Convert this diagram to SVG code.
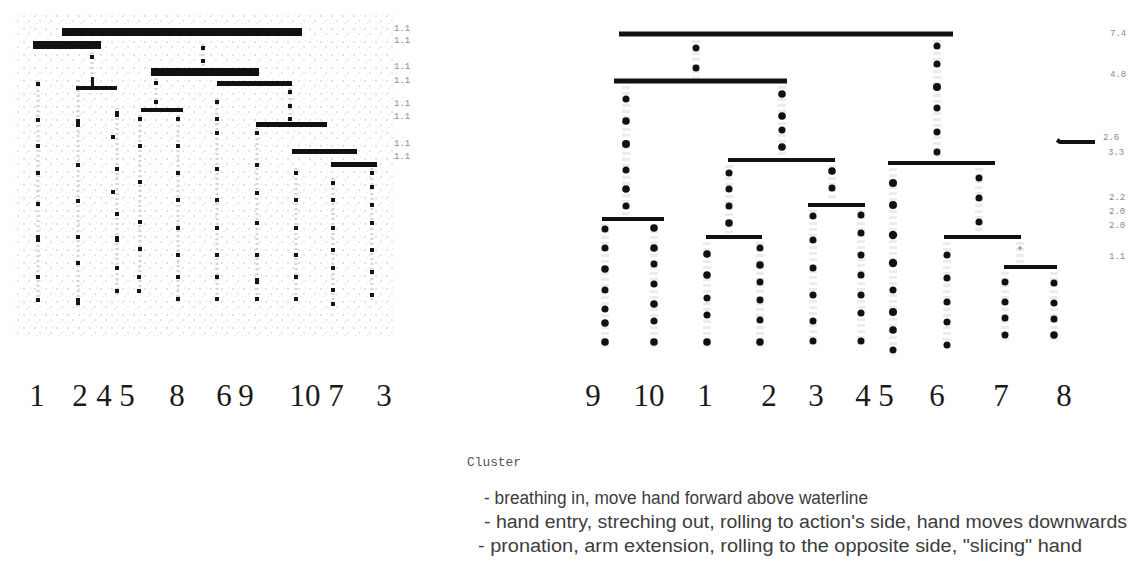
<svg xmlns="http://www.w3.org/2000/svg" width="1136" height="565" viewBox="0 0 1136 565">
<style>
.bar{fill:#111}
.rb{stroke:#111;stroke-width:5;stroke-linecap:butt;fill:none}
.rb4{stroke:#111;stroke-width:4;fill:none}
.sq{fill:#151515}
.dt{fill:#111}
.gl{stroke:#d4d4d4;stroke-width:3;stroke-dasharray:2 3;fill:none}
.gr{stroke:#e0e0e0;stroke-width:8;stroke-dasharray:3 3;fill:none;opacity:.6}
.num{font-family:"Liberation Serif",serif;font-size:31px;fill:#1a1a1a;text-anchor:middle}
.sc{font-family:"Liberation Mono",monospace;font-size:9px;fill:#8a8a8a}
.lg{font-family:"Liberation Sans",Arial,sans-serif;font-size:18px;fill:#3c3c3c}
.cl{font-family:"Liberation Mono",monospace;font-size:12px;fill:#555}
</style>
<defs>
<pattern id="noise" width="11" height="13" patternUnits="userSpaceOnUse">
<rect x="1" y="2" width="2" height="2" fill="#e2e2e2"/>
<rect x="6" y="7" width="2" height="2" fill="#e8e8e8"/>
<rect x="8" y="1" width="1" height="2" fill="#ececec"/>
<rect x="3" y="10" width="2" height="1" fill="#ebebeb"/>
</pattern>
</defs>
<rect width="1136" height="565" fill="#fff"/>
<rect x="15" y="15" width="380" height="322" fill="url(#noise)"/>

<!-- left dendrogram -->
<g id="left-connectors">
<path class="gl" d="M38 80V305M78 80V308M92 52V90M117 108V295M140 115V295M156 78V106M178 115V303M203 44V66M217 98V303M257 128V303M290 88V122M296 168V303M333 178V308M372 168V300"/>
<g>
<rect class="sq" x="36" y="82" width="4" height="4"/><rect class="sq" x="36" y="118" width="4" height="4"/><rect class="sq" x="36" y="144" width="4" height="4"/><rect class="sq" x="36" y="171" width="4" height="4"/><rect class="sq" x="36" y="202" width="4" height="4"/><rect class="sq" x="36" y="235" width="4" height="7"/><rect class="sq" x="36" y="275" width="4" height="4"/><rect class="sq" x="36" y="298" width="4" height="4"/>
<rect class="sq" x="76" y="119" width="4" height="8"/><rect class="sq" x="76" y="163" width="4" height="4"/><rect class="sq" x="76" y="199" width="4" height="4"/><rect class="sq" x="76" y="235" width="4" height="4"/><rect class="sq" x="76" y="261" width="4" height="4"/><rect class="sq" x="76" y="298" width="4" height="7"/>
<rect class="sq" x="90" y="55" width="4" height="4"/><rect class="sq" x="91" y="77" width="3" height="11"/>
<rect class="sq" x="115" y="111" width="4" height="6"/><rect class="sq" x="111" y="135" width="4" height="4"/><rect class="sq" x="115" y="167" width="4" height="4"/><rect class="sq" x="111" y="190" width="4" height="4"/><rect class="sq" x="115" y="212" width="4" height="4"/><rect class="sq" x="115" y="236" width="4" height="6"/><rect class="sq" x="115" y="266" width="4" height="4"/><rect class="sq" x="115" y="289" width="4" height="4"/>
<rect class="sq" x="138" y="117" width="4" height="4"/><rect class="sq" x="138" y="144" width="4" height="4"/><rect class="sq" x="138" y="180" width="4" height="4"/><rect class="sq" x="138" y="220" width="4" height="4"/><rect class="sq" x="138" y="247" width="4" height="4"/><rect class="sq" x="137" y="275" width="4" height="4"/><rect class="sq" x="137" y="289" width="4" height="4"/>
<rect class="sq" x="154" y="81" width="4" height="4"/><rect class="sq" x="154" y="100" width="4" height="4"/>
<rect class="sq" x="176" y="117" width="4" height="4"/><rect class="sq" x="176" y="144" width="4" height="4"/><rect class="sq" x="176" y="171" width="4" height="4"/><rect class="sq" x="176" y="198" width="4" height="4"/><rect class="sq" x="176" y="226" width="4" height="4"/><rect class="sq" x="176" y="253" width="4" height="4"/><rect class="sq" x="176" y="275" width="4" height="4"/><rect class="sq" x="176" y="297" width="4" height="4"/>
<rect class="sq" x="201" y="46" width="4" height="4"/><rect class="sq" x="201" y="59" width="4" height="4"/>
<rect class="sq" x="215" y="100" width="4" height="4"/><rect class="sq" x="215" y="117" width="4" height="4"/><rect class="sq" x="215" y="131" width="4" height="4"/><rect class="sq" x="215" y="167" width="4" height="4"/><rect class="sq" x="215" y="198" width="4" height="4"/><rect class="sq" x="215" y="226" width="4" height="4"/><rect class="sq" x="215" y="253" width="4" height="4"/><rect class="sq" x="215" y="275" width="4" height="4"/><rect class="sq" x="215" y="297" width="4" height="4"/>
<rect class="sq" x="255" y="131" width="4" height="4"/><rect class="sq" x="255" y="163" width="4" height="4"/><rect class="sq" x="255" y="191" width="4" height="4"/><rect class="sq" x="255" y="221" width="4" height="4"/><rect class="sq" x="255" y="253" width="4" height="4"/><rect class="sq" x="255" y="278" width="4" height="6"/><rect class="sq" x="255" y="297" width="4" height="4"/>
<rect class="sq" x="288" y="90" width="4" height="4"/><rect class="sq" x="288" y="104" width="4" height="4"/><rect class="sq" x="288" y="117" width="4" height="4"/>
<rect class="sq" x="294" y="171" width="4" height="4"/><rect class="sq" x="294" y="198" width="4" height="4"/><rect class="sq" x="294" y="226" width="4" height="4"/><rect class="sq" x="294" y="253" width="4" height="4"/><rect class="sq" x="294" y="275" width="4" height="4"/><rect class="sq" x="294" y="297" width="4" height="4"/>
<rect class="sq" x="331" y="181" width="4" height="4"/><rect class="sq" x="331" y="198" width="4" height="4"/><rect class="sq" x="331" y="226" width="4" height="4"/><rect class="sq" x="331" y="248" width="4" height="4"/><rect class="sq" x="331" y="266" width="4" height="4"/><rect class="sq" x="331" y="288" width="4" height="4"/><rect class="sq" x="331" y="302" width="4" height="4"/>
<rect class="sq" x="370" y="171" width="4" height="4"/><rect class="sq" x="370" y="185" width="4" height="4"/><rect class="sq" x="370" y="203" width="4" height="4"/><rect class="sq" x="370" y="221" width="4" height="4"/><rect class="sq" x="370" y="248" width="4" height="4"/><rect class="sq" x="370" y="270" width="4" height="4"/><rect class="sq" x="370" y="293" width="4" height="4"/>
</g>
</g>
<g id="left-node-root"><rect class="bar" x="62" y="28" width="240" height="8"/></g>
<g id="left-node-a"><rect class="bar" x="33" y="41" width="68" height="8"/></g>
<g id="left-node-b"><rect class="bar" x="151" y="68" width="108" height="8"/></g>
<g id="left-node-c"><rect class="bar" x="217" y="81" width="75" height="5"/></g>
<g id="left-node-d"><rect class="bar" x="76" y="86" width="41" height="4"/></g>
<g id="left-node-e"><rect class="bar" x="141" y="108" width="42" height="4"/></g>
<g id="left-node-f"><rect class="bar" x="256" y="122" width="71" height="5"/></g>
<g id="left-node-g"><rect class="bar" x="292" y="149" width="65" height="5"/></g>
<g id="left-node-h"><rect class="bar" x="331" y="162" width="46" height="5"/></g>
<g id="left-scale">
<text class="sc" x="394" y="31">1.1</text><text class="sc" x="394" y="43">1.1</text>
<text class="sc" x="394" y="69">1.1</text><text class="sc" x="394" y="83">1.1</text>
<text class="sc" x="394" y="106">1.1</text><text class="sc" x="394" y="119">1.1</text>
<text class="sc" x="394" y="146">1.1</text><text class="sc" x="394" y="159">1.1</text>
</g>
<g id="left-labels">
<text class="num" x="37" y="406">1</text><text class="num" x="80" y="406">2</text><text class="num" x="104" y="406">4</text><text class="num" x="127" y="406">5</text><text class="num" x="177" y="406">8</text><text class="num" x="224" y="406">6</text><text class="num" x="246" y="406">9</text><text class="num" x="305" y="406">10</text><text class="num" x="336" y="406">7</text><text class="num" x="384" y="406">3</text>
</g>

<!-- right dendrogram -->
<g id="right-connectors">
<path class="gr" d="M696 40V78M937 40V160M626 86V215M782 86V156M729 165V233M832 165V201M605 224V348M654 224V348M707 242V348M760 242V348M813 210V346M861 210V346M893 168V355M979 168V233M947 242V350M1020 242V263M1005 272V340M1054 272V340"/>
<g>
<circle class="dt" cx="696" cy="48" r="3.5"/><circle class="dt" cx="696" cy="68" r="3.5"/>
<circle class="dt" cx="937" cy="46" r="3.5"/><circle class="dt" cx="937" cy="64" r="3.5"/><circle class="dt" cx="937" cy="87" r="4"/><circle class="dt" cx="937" cy="108" r="3.5"/><circle class="dt" cx="937" cy="132" r="3.5"/><circle class="dt" cx="937" cy="152" r="3.5"/>
<circle class="dt" cx="626" cy="99" r="3.5"/><circle class="dt" cx="626" cy="121" r="3.8"/><circle class="dt" cx="626" cy="144" r="4"/><circle class="dt" cx="626" cy="170" r="3.5"/><circle class="dt" cx="626" cy="189" r="3.8"/><circle class="dt" cx="626" cy="206" r="3.5"/>
<circle class="dt" cx="782" cy="94" r="3.8"/><circle class="dt" cx="782" cy="116" r="3.8"/><circle class="dt" cx="782" cy="130" r="3.5"/><circle class="dt" cx="782" cy="147" r="3.8"/>
<circle class="dt" cx="729" cy="173" r="3.5"/><circle class="dt" cx="729" cy="189" r="3.5"/><circle class="dt" cx="729" cy="206" r="3.5"/><circle class="dt" cx="729" cy="223" r="3.8"/>
<circle class="dt" cx="832" cy="171" r="3.8"/><circle class="dt" cx="832" cy="188" r="3.5"/>
<circle class="dt" cx="605" cy="229" r="3.5"/><circle class="dt" cx="605" cy="248" r="3.5"/><circle class="dt" cx="605" cy="269" r="3.8"/><circle class="dt" cx="605" cy="290" r="3.5"/><circle class="dt" cx="605" cy="309" r="3.5"/><circle class="dt" cx="605" cy="323" r="3.8"/><circle class="dt" cx="605" cy="342" r="3.8"/>
<circle class="dt" cx="654" cy="228" r="3.8"/><circle class="dt" cx="654" cy="248" r="3.8"/><circle class="dt" cx="654" cy="264" r="3.5"/><circle class="dt" cx="654" cy="284" r="3.5"/><circle class="dt" cx="654" cy="304" r="3.8"/><circle class="dt" cx="654" cy="321" r="3.5"/><circle class="dt" cx="654" cy="342" r="3.8"/>
<circle class="dt" cx="707" cy="254" r="3.8"/><circle class="dt" cx="707" cy="275" r="3.8"/><circle class="dt" cx="707" cy="298" r="3.5"/><circle class="dt" cx="707" cy="315" r="3.5"/><circle class="dt" cx="707" cy="342" r="3.8"/>
<circle class="dt" cx="760" cy="248" r="3.5"/><circle class="dt" cx="760" cy="265" r="3.8"/><circle class="dt" cx="760" cy="282" r="3.5"/><circle class="dt" cx="760" cy="300" r="3.5"/><circle class="dt" cx="760" cy="320" r="3.5"/><circle class="dt" cx="760" cy="342" r="3.8"/>
<circle class="dt" cx="813" cy="216" r="3.5"/><circle class="dt" cx="813" cy="240" r="3.5"/><circle class="dt" cx="813" cy="268" r="3.5"/><circle class="dt" cx="813" cy="295" r="3.5"/><circle class="dt" cx="813" cy="321" r="3.5"/><circle class="dt" cx="813" cy="341" r="3.5"/>
<circle class="dt" cx="861" cy="215" r="3.5"/><circle class="dt" cx="861" cy="233" r="3.5"/><circle class="dt" cx="861" cy="255" r="3.5"/><circle class="dt" cx="861" cy="275" r="3.5"/><circle class="dt" cx="861" cy="295" r="3.5"/><circle class="dt" cx="861" cy="313" r="3.5"/><circle class="dt" cx="861" cy="341" r="3.5"/>
<circle class="dt" cx="893" cy="183" r="4"/><circle class="dt" cx="893" cy="205" r="4"/><circle class="dt" cx="893" cy="235" r="4.2"/><circle class="dt" cx="893" cy="263" r="4.2"/><circle class="dt" cx="893" cy="290" r="3.5"/><circle class="dt" cx="893" cy="312" r="4"/><circle class="dt" cx="893" cy="330" r="3.8"/><circle class="dt" cx="893" cy="350" r="3.5"/>
<circle class="dt" cx="979" cy="178" r="3.5"/><circle class="dt" cx="979" cy="198" r="3.5"/><circle class="dt" cx="979" cy="222" r="3.5"/>
<circle class="dt" cx="947" cy="255" r="3.5"/><circle class="dt" cx="947" cy="278" r="3.5"/><circle class="dt" cx="947" cy="302" r="3.5"/><circle class="dt" cx="947" cy="322" r="3.5"/><circle class="dt" cx="947" cy="345" r="3.5"/>
<circle cx="1020" cy="248" r="1.8" fill="#999"/>
<circle class="dt" cx="1005" cy="282" r="3.5"/><circle class="dt" cx="1005" cy="302" r="3.5"/><circle class="dt" cx="1005" cy="318" r="3.5"/><circle class="dt" cx="1005" cy="335" r="3.5"/>
<circle class="dt" cx="1054" cy="283" r="3.5"/><circle class="dt" cx="1054" cy="303" r="3.5"/><circle class="dt" cx="1054" cy="319" r="3.5"/><circle class="dt" cx="1054" cy="335" r="3.8"/>
</g>
</g>
<g id="right-node-root"><path class="rb" d="M619 34H953"/></g>
<g id="right-node-9-10-1-2-3-4"><path class="rb" d="M614 81H787"/></g>
<g id="right-node-1-2-3-4"><path class="rb4" d="M728 160H835"/></g>
<g id="right-node-5-6-7-8"><path class="rb4" d="M888 163H995"/></g>
<g id="right-node-9-10"><path class="rb4" d="M602 219H664"/></g>
<g id="right-node-3-4"><path class="rb4" d="M808 205H865"/></g>
<g id="right-node-1-2"><path class="rb4" d="M706 237H762"/></g>
<g id="right-node-6-7-8"><path class="rb4" d="M944 237H1021"/></g>
<g id="right-node-7-8"><path class="rb4" d="M1004 267H1057"/></g>
<g id="right-scale">
<path class="rb4" d="M1057 140L1060 142H1095"/>
<text class="sc" x="1110" y="36">7.4</text>
<text class="sc" x="1110" y="77">4.8</text>
<text class="sc" x="1103" y="140">2.6</text>
<text class="sc" x="1108" y="155">3.3</text>
<text class="sc" x="1109" y="200">2.2</text>
<text class="sc" x="1109" y="214">2.0</text>
<text class="sc" x="1109" y="228">2.0</text>
<text class="sc" x="1109" y="259">1.1</text>
</g>
<g id="right-labels">
<text class="num" x="593" y="406">9</text><text class="num" x="649" y="406">10</text><text class="num" x="705" y="406">1</text><text class="num" x="769" y="406">2</text><text class="num" x="816" y="406">3</text><text class="num" x="863" y="406">4</text><text class="num" x="886" y="406">5</text><text class="num" x="937" y="406">6</text><text class="num" x="1001" y="406">7</text><text class="num" x="1064" y="406">8</text>
</g>

<g id="legend">
<text class="cl" x="467" y="466" textLength="54" lengthAdjust="spacingAndGlyphs">Cluster</text>
<text class="lg" x="484" y="504" textLength="384" lengthAdjust="spacingAndGlyphs">- breathing in, move hand forward above waterline</text>
<text class="lg" x="484" y="528" textLength="643" lengthAdjust="spacingAndGlyphs">- hand entry, streching out, rolling to action's side, hand moves downwards</text>
<text class="lg" x="478" y="552" textLength="604" lengthAdjust="spacingAndGlyphs">- pronation, arm extension, rolling to the opposite side, "slicing" hand</text>
</g>
</svg>
